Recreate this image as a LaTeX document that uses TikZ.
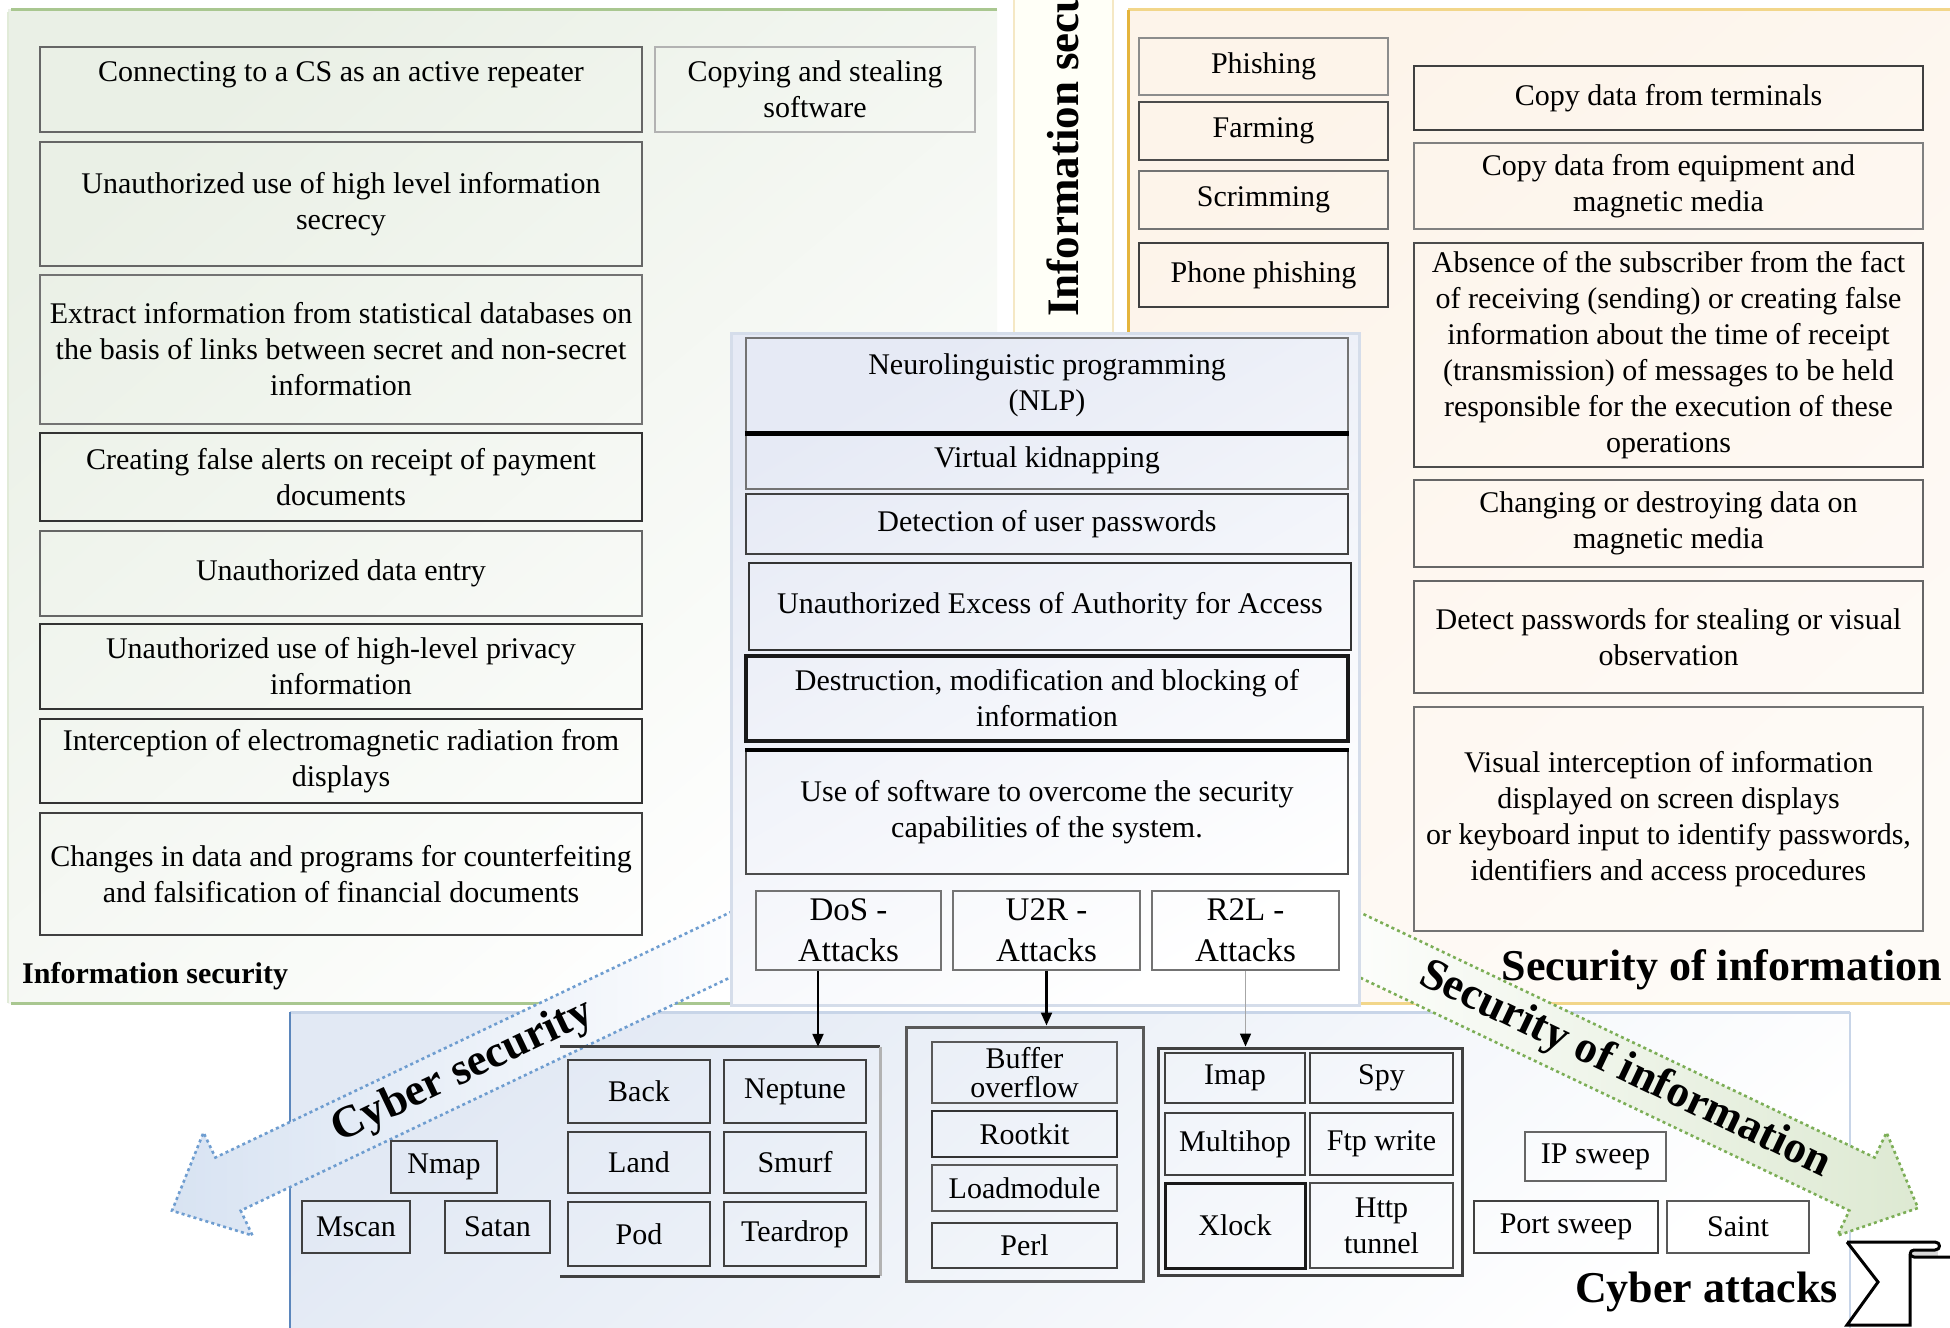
\documentclass[tikz,border=0pt]{standalone}
\usepackage{fontspec}
\setmainfont{Liberation Serif}
\usetikzlibrary{arrows.meta,calc}

\definecolor{greenline}{HTML}{A9C790}
\definecolor{greenbg}{HTML}{EAF0E6}
\definecolor{goldline}{HTML}{E4B43C}
\definecolor{goldlite}{HTML}{F2D68A}
\definecolor{peachbg}{HTML}{FDF4EA}
\definecolor{paleyel}{HTML}{F5E8C4}
\definecolor{bluebg}{HTML}{E2E9F4}
\definecolor{blueline}{HTML}{C8D5E8}
\definecolor{steel}{HTML}{5B86BC}
\definecolor{cybdot}{HTML}{6E9DD0}
\definecolor{cybfill}{HTML}{D8E3F2}
\definecolor{infodot}{HTML}{7CAE56}
\definecolor{infofill}{HTML}{DDE9D2}
\definecolor{centbg}{HTML}{E6EAF5}
\definecolor{centline}{HTML}{D5DDEA}

% box given by its corners: [options]{name}{x1}{y1}{x2}{y2}{text}
\newcommand\mkcell[7][]{%
  \node[cell,#1,minimum width={(#5-#3)*1pt},minimum height={(#6-#4)*1pt}]
    (#2) at ({(#3+#5)/2},{(#4+#6)/2}) {#7};}

\begin{document}
\begin{tikzpicture}[x=1pt,y=-1pt,
  cell/.style={draw=black!70, line width=2.5pt, align=center, inner sep=0pt,
    font=\fontsize{30}{36}\selectfont},
  attack/.style={font=\fontsize{33}{41}\selectfont},
  conn/.style={line width=2.2pt, -{Triangle[length=13pt,width=11pt,color=black]}},
  bigarrow/.style={line width=2.6pt, dash pattern=on 3pt off 3.2pt},
  arrowtext/.style={inner sep=0pt, font=\fontsize{45}{54}\selectfont\bfseries},
  heading/.style={inner sep=0pt, font=\fontsize{44}{52}\selectfont\bfseries},
]
\path[use as bounding box] (0,0) rectangle (1950,1327);
\clip (0,0) rectangle (1950,1327);
\fill[white] (0,0) rectangle (1950,1327);

% ---------- panels ----------
% information security (green)
\shade[top color=greenbg, bottom color=white, shading angle=40] (8,10) rectangle (997,1003);
\draw[greenline, line width=3pt] (11,10) -- (997,10);
\draw[greenline, line width=3pt] (11,1003) -- (740,1003);
\draw[greenline!35, line width=1.5pt] (8,12) -- (8,1003);

% security of information (gold)
\shade[top color=peachbg, bottom color=white!60!peachbg, shading angle=40] (1128,10) rectangle (1960,1003);
\draw[goldlite, line width=3pt] (1128,10) -- (1960,10);
\draw[goldline, line width=3pt] (1128,10) -- (1128,340);
\draw[goldlite, line width=3pt] (1350,1003) -- (1960,1003);

% narrow vertical strip
\fill[white!97!yellow] (1014,-10) rectangle (1113,333);
\draw[paleyel, line width=2pt] (1014,-10) -- (1014,333) (1113,-10) -- (1113,333);
\node[rotate=90, anchor=base west, inner sep=0pt,
  font=\fontsize{45}{54}\selectfont\bfseries] (vlabel) at (1078,317) {Information security};

% cyber attacks (blue)
\shade[top color=bluebg, bottom color=white, shading angle=40] (290,1012) rectangle (1850,1340);
\draw[blueline, line width=3pt] (290,1012) -- (1850,1012);
\draw[steel, line width=2pt] (290,1012) -- (290,1340);
\draw[blueline, line width=2pt] (1850,1012) -- (1850,1340);

% ---------- big block arrows ----------
\shadedraw[bigarrow, draw=cybdot, left color=cybfill, middle color=white, right color=white]
  (754.5,900.8) -- (215.4,1157.5) -- (203.5,1132.5) -- (172,1210.7)
  -- (252.5,1235.5) -- (240.7,1210.6) -- (779.8,953.9) -- cycle;
\shadedraw[bigarrow, draw=infodot, left color=white, middle color=white, right color=infofill]
  (1335.5,900.8) -- (1874.6,1157.5) -- (1886.5,1132.5) -- (1918,1208)
  -- (1837.5,1235.5) -- (1849.3,1210.6) -- (1310.2,953.9) -- cycle;
\node[arrowtext, rotate=25.5] (cybtxt) at (463,1072) {Cyber security};
\node[arrowtext, rotate=-25.5] (sectxt) at (1625,1070) {Security of information};

% ---------- central panel ----------
\shade[top color=centbg, bottom color=white, shading angle=30] (731,333) rectangle (1359,1005);
\draw[centline, line width=3pt] (731,333) rectangle (1359,1005);

% ---------- left column ----------
\mkcell[draw=black!60]{conn}{40}{47}{642}{132}{Connecting to a CS as an active repeater\\\mbox{}}
\mkcell[draw=black!30]{copysw}{655}{47}{975}{132}{Copying and stealing\\software}
\mkcell[draw=black!60]{secrecy}{40}{142}{642}{266}{Unauthorized use of high level information\\secrecy}
\mkcell[draw=black!55]{extract}{40}{275}{642}{424}{Extract information from statistical databases on\\the basis of links between secret and non-secret\\information}
\mkcell[draw=black!80]{alerts}{40}{433}{642}{521}{Creating false alerts on receipt of payment\\documents}
\mkcell[draw=black!60]{entry}{40}{531}{642}{616}{Unauthorized data entry}
\mkcell[draw=black!80]{privacy}{40}{624}{642}{709}{Unauthorized use of high-level privacy\\information}
\mkcell[draw=black!80]{emr}{40}{719}{642}{803}{Interception of electromagnetic radiation from\\displays}
\mkcell[draw=black!75]{changes}{40}{813}{642}{935}{Changes in data and programs for counterfeiting\\and falsification of financial documents}
\node[anchor=base west, inner sep=0pt, font=\fontsize{30}{36}\selectfont\bfseries] (infosec) at (22,983) {Information security};

% ---------- central column ----------
\mkcell[draw=black!55]{nlp}{746}{338}{1348}{432}{Neurolinguistic programming\\(NLP)}
\mkcell[draw=black!55]{kidnap}{746}{432}{1348}{489}{Virtual kidnapping}
\draw[line width=4.5pt] (nlp.south west) -- (nlp.south east);
\mkcell[draw=black!75]{detect}{746}{494}{1348}{554}{Detection of user passwords}
\mkcell[draw=black!80]{excess}{749}{563}{1351}{650}{Unauthorized Excess of Authority for Access}
\mkcell[draw=black!90, line width=3.5pt]{destr}{746}{656}{1348}{741}{Destruction, modification and blocking of\\information}
\mkcell[draw=black!70]{usesoft}{746}{751}{1348}{874}{Use of software to overcome the security\\capabilities of the system.}
\draw[line width=3.5pt] (usesoft.north west) -- (usesoft.north east);
\mkcell[draw=black!55, attack]{dos}{756}{891}{941}{970}{DoS -\\Attacks}
\mkcell[draw=black!55, attack]{u2r}{953}{891}{1140}{970}{U2R -\\Attacks}
\mkcell[draw=black!55, attack]{r2l}{1152}{891}{1339}{970}{R2L -\\Attacks}

% ---------- right column ----------
\mkcell[draw=black!45]{phish}{1139}{38}{1388}{95}{Phishing}
\mkcell[draw=black!70]{farm}{1139}{102}{1388}{160}{Farming}
\mkcell[draw=black!55]{scrim}{1139}{171}{1388}{229}{Scrimming}
\mkcell[draw=black!75]{phone}{1139}{243}{1388}{307}{Phone phishing}
\mkcell[draw=black!75]{term}{1414}{66}{1923}{130}{Copy data from terminals}
\mkcell[draw=black!50]{equip}{1414}{143}{1923}{229}{Copy data from equipment and\\magnetic media}
\mkcell[draw=black!70]{absence}{1414}{243}{1923}{467}{Absence of the subscriber from the fact\\of receiving (sending) or creating false\\information about the time of receipt\\(transmission) of messages to be held\\responsible for the execution of these\\operations}
\mkcell[draw=black!60]{magn}{1414}{480}{1923}{567}{Changing or destroying data on\\magnetic media}
\mkcell[draw=black!60]{detpw}{1414}{581}{1923}{693}{Detect passwords for stealing or visual\\observation}
\mkcell[draw=black!55]{visual}{1414}{707}{1923}{931}{Visual interception of information\\displayed on screen displays\\or keyboard input to identify passwords,\\identifiers and access procedures}
\node[heading, anchor=base east] (secinfo) at (1942,980) {Security of information};

% ---------- attack groups ----------
\mkcell[draw=none]{dosgrp}{561}{1048}{879}{1275}{}
\draw[black!75, line width=3pt] (dosgrp.north west) -- (dosgrp.north east);
\draw[black!30, line width=2.5pt] (dosgrp.north east) -- (dosgrp.south east);
\draw[black!75, line width=3pt] (dosgrp.south east) -- (dosgrp.south west);
\mkcell[draw=black!75]{back}{568}{1060}{710}{1123}{Back}
\mkcell[draw=black!75]{neptune}{724}{1060}{866}{1123}{Neptune}
\mkcell[draw=black!75]{land}{568}{1132}{710}{1193}{Land}
\mkcell[draw=black!75]{smurf}{724}{1132}{866}{1193}{Smurf}
\mkcell[draw=black!75]{pod}{568}{1202}{710}{1266}{Pod}
\mkcell[draw=black!75]{teardrop}{724}{1202}{866}{1266}{Teardrop}

\mkcell[draw=black!75]{nmap}{391}{1141}{497}{1193}{Nmap}
\mkcell[draw=black!75]{mscan}{302}{1201}{410}{1253}{Mscan}
\mkcell[draw=black!75]{satan}{445}{1201}{550}{1253}{Satan}

\mkcell[draw=black!65, line width=3pt]{u2rgrp}{906}{1027}{1143}{1281}{}
\mkcell[draw=black!65, font=\fontsize{30}{29}\selectfont]{buffer}{932}{1042}{1117}{1103}{Buffer\\overflow}
\mkcell[draw=black!80]{rootkit}{932}{1111}{1117}{1157}{Rootkit}
\mkcell[draw=black!65]{loadmod}{932}{1165}{1117}{1211}{Loadmodule}
\mkcell[draw=black!75]{perl}{932}{1223}{1117}{1268}{Perl}

\mkcell[draw=black!75, line width=3pt]{r2lgrp}{1158}{1048}{1462}{1275}{}
\mkcell[draw=black!75]{imap}{1165}{1053}{1305}{1103}{Imap}
\mkcell[draw=black!75]{spy}{1310}{1053}{1453}{1103}{Spy}
\mkcell[draw=black!75]{multihop}{1165}{1113}{1305}{1175}{Multihop}
\mkcell[draw=black!75]{ftpw}{1310}{1113}{1453}{1175}{Ftp write}
\mkcell[draw=black!90, line width=3pt]{xlock}{1165}{1183}{1305}{1268}{Xlock}
\mkcell[draw=black!70]{http}{1310}{1183}{1453}{1268}{Http\\tunnel}

\mkcell[draw=black!60]{ipsweep}{1525}{1132}{1666}{1181}{IP sweep}
\mkcell[draw=black!75]{portsweep}{1474}{1201}{1658}{1253}{Port sweep}
\mkcell[draw=black!65]{saint}{1667}{1201}{1809}{1253}{Saint}

% ---------- connectors ----------
\coordinate (dosx) at (818,0);
\draw[conn] (dosx |- dos.south) -- (dosx |- dosgrp.north);
\draw[conn] (u2r.south) -- (u2r.south |- u2rgrp.north);
\draw[conn, draw=black!35, line width=1.6pt] (r2l.south) -- (r2l.south |- r2lgrp.north);

% ---------- cyber attacks banner ----------
\fill[black!15] (1912,1250) rectangle (1938,1257);
\draw[line width=3pt, line join=round]
  (1847,1242) -- (1935,1242) .. controls (1941,1242) and (1941,1250) .. (1935,1250)
  -- (1914,1250) .. controls (1909,1250) and (1909,1257) .. (1914,1257) -- (1955,1257);
\draw[line width=3pt, line join=miter]
  (1847,1242) -- (1878,1282) -- (1847,1325) -- (1910,1325) -- (1910,1254);
\node[heading, anchor=base east] (cybatt) at (1838,1302) {Cyber attacks};
\end{tikzpicture}
\end{document}
